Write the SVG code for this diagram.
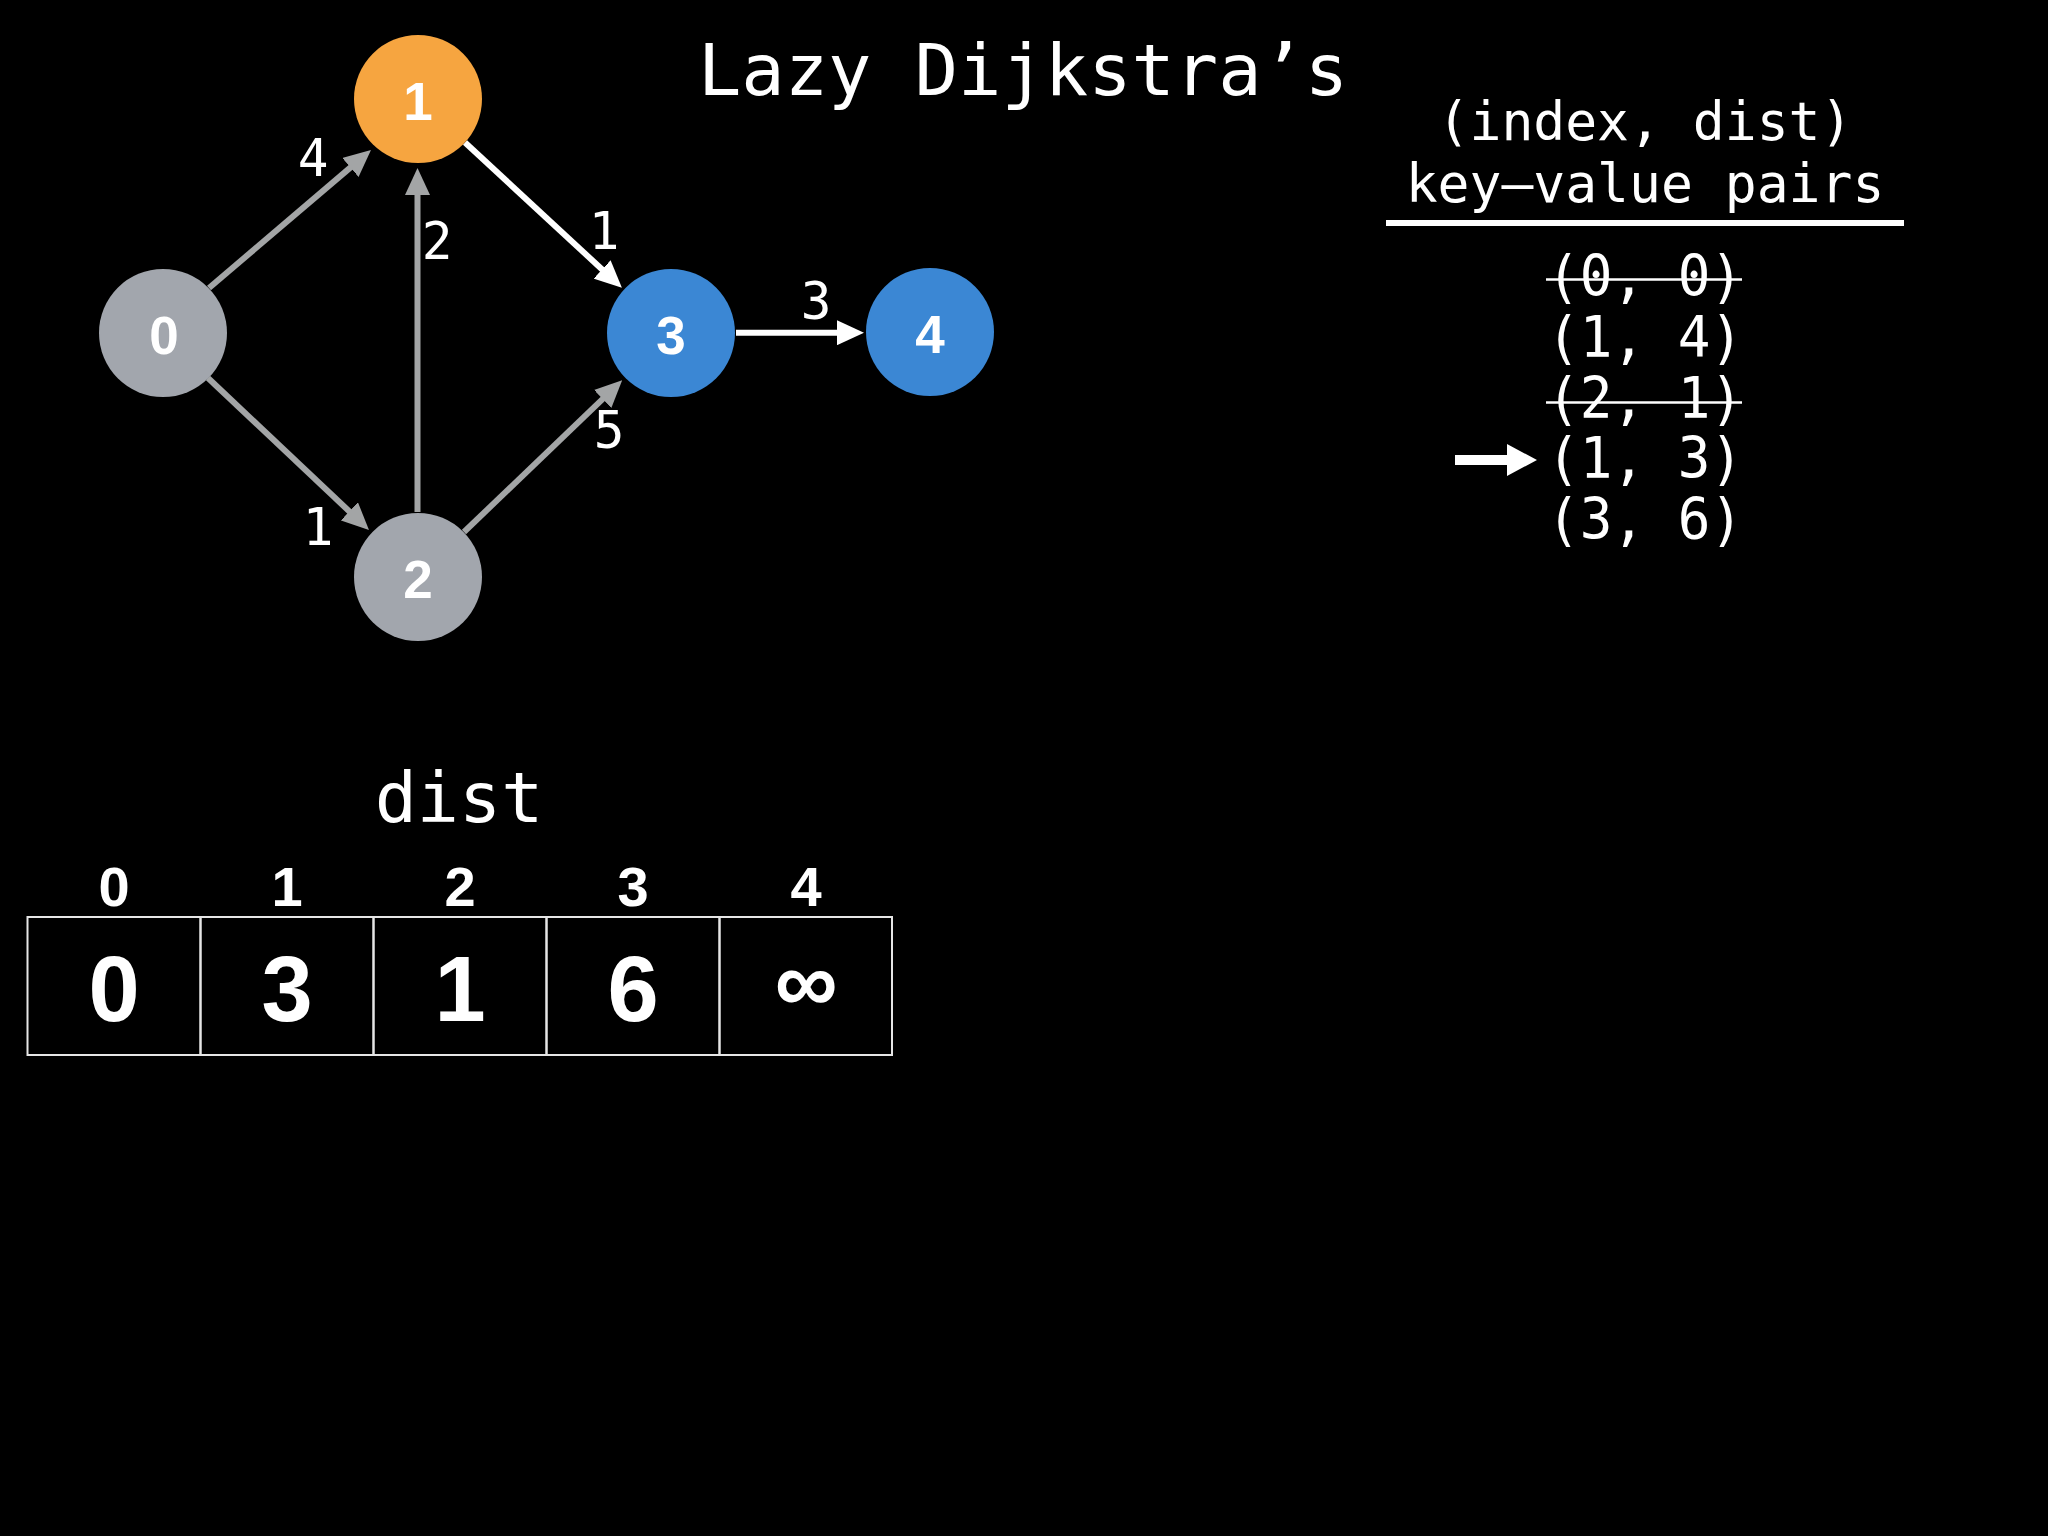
<svg xmlns="http://www.w3.org/2000/svg" width="2048" height="1536" viewBox="0 0 2048 1536">
<style>
.mono{font-family:"DejaVu Sans Mono","Liberation Mono",monospace;fill:#fff}
.bold{font-family:"Liberation Sans",Arial,sans-serif;font-weight:bold;fill:#fff;text-anchor:middle}
.nl{font-size:53px}
.el{font-size:51px;text-anchor:middle}
.pq{font-size:57px;text-anchor:middle}
.gray{stroke:#a3a5a6;stroke-width:6;fill:none}
.white{stroke:#fff;stroke-width:6;fill:none}
.strike{stroke:#fff;stroke-width:2.5}
.cell{fill:none;stroke:#e6e6e6;stroke-width:2}
</style>
<defs>
<marker id="ag" markerUnits="userSpaceOnUse" markerWidth="27" markerHeight="25" refX="6" refY="12.5" orient="auto"><path d="M0,0 L27,12.5 L0,25 z" fill="#a3a5a6"/></marker>
<marker id="aw" markerUnits="userSpaceOnUse" markerWidth="27" markerHeight="25" refX="6" refY="12.5" orient="auto"><path d="M0,0 L27,12.5 L0,25 z" fill="#fff"/></marker>
</defs>
<rect x="0" y="0" width="2048" height="1536" fill="#000"/>

<g id="connectors">
<line class="gray" x1="209" y1="288" x2="355" y2="163.6" marker-end="url(#ag)"/>
<line class="gray" x1="208" y1="378" x2="353.7" y2="515.5" marker-end="url(#ag)"/>
<line class="gray" x1="417.5" y1="512" x2="417.5" y2="189" marker-end="url(#ag)"/>
<line class="gray" x1="464" y1="532" x2="607" y2="394.8" marker-end="url(#ag)"/>
<line class="white" x1="465" y1="142.5" x2="606.5" y2="273.5" marker-end="url(#aw)"/>
<line class="white" x1="736" y1="332.7" x2="843" y2="332.7" marker-end="url(#aw)"/>
<text class="mono el" x="313" y="176">4</text>
<text class="mono el" x="437" y="259">2</text>
<text class="mono el" x="604" y="249">1</text>
<text class="mono el" x="318" y="545">1</text>
<text class="mono el" x="609" y="448">5</text>
<text class="mono el" x="816" y="319">3</text>
</g>

<g id="node0"><circle cx="163" cy="333" r="64" fill="#a2a6ad"/><text class="bold nl" x="164" y="354">0</text></g>
<g id="node1"><circle cx="418" cy="99" r="64" fill="#f6a540"/><text class="bold nl" x="418" y="120">1</text></g>
<g id="node2"><circle cx="418" cy="577" r="64" fill="#a2a6ad"/><text class="bold nl" x="418" y="598">2</text></g>
<g id="node3"><circle cx="671" cy="333" r="64" fill="#3b87d4"/><text class="bold nl" x="671" y="354">3</text></g>
<g id="node4"><circle cx="930" cy="332" r="64" fill="#3b87d4"/><text class="bold nl" x="930" y="353">4</text></g>

<g id="title"><text class="mono" x="698" y="95" font-size="72">Lazy Dijkstra’s</text></g>

<g id="pq">
<text class="mono" x="1645" y="140" font-size="53" text-anchor="middle">(index, dist)</text>
<text class="mono" x="1645" y="202" font-size="53" text-anchor="middle">key–value pairs</text>
<line x1="1386" y1="223" x2="1904" y2="223" stroke="#fff" stroke-width="6"/>
<text class="mono pq" x="1645" y="296" textLength="196" lengthAdjust="spacingAndGlyphs">(0, 0)</text>
<line class="strike" x1="1546" y1="279.5" x2="1742" y2="279.5"/>
<text class="mono pq" x="1645" y="357" textLength="196" lengthAdjust="spacingAndGlyphs">(1, 4)</text>
<text class="mono pq" x="1645" y="418" textLength="196" lengthAdjust="spacingAndGlyphs">(2, 1)</text>
<line class="strike" x1="1546" y1="402.5" x2="1742" y2="402.5"/>
<text class="mono pq" x="1645" y="478" textLength="196" lengthAdjust="spacingAndGlyphs">(1, 3)</text>
<text class="mono pq" x="1645" y="539" textLength="196" lengthAdjust="spacingAndGlyphs">(3, 6)</text>
<path d="M1455,455 L1507,455 L1507,444 L1537,460 L1507,476 L1507,465 L1455,465 z" fill="#fff"/>
</g>

<g id="dist">
<text class="mono" x="459" y="822" font-size="70" text-anchor="middle">dist</text>
<text class="bold" x="114" y="906" font-size="56">0</text>
<text class="bold" x="287" y="906" font-size="56">1</text>
<text class="bold" x="460" y="906" font-size="56">2</text>
<text class="bold" x="633" y="906" font-size="56">3</text>
<text class="bold" x="806" y="906" font-size="56">4</text>
<rect class="cell" x="27.5" y="917" width="173" height="138"/>
<rect class="cell" x="200.5" y="917" width="173" height="138"/>
<rect class="cell" x="373.5" y="917" width="173" height="138"/>
<rect class="cell" x="546.5" y="917" width="173" height="138"/>
<rect class="cell" x="719.5" y="917" width="172.5" height="138"/>
<text class="bold" x="114" y="1021" font-size="92">0</text>
<text class="bold" x="287" y="1021" font-size="92">3</text>
<text class="bold" x="460" y="1021" font-size="92">1</text>
<text class="bold" x="633" y="1021" font-size="92">6</text>
<text class="bold" x="806" y="1012" font-size="88">∞</text>
</g>
</svg>
